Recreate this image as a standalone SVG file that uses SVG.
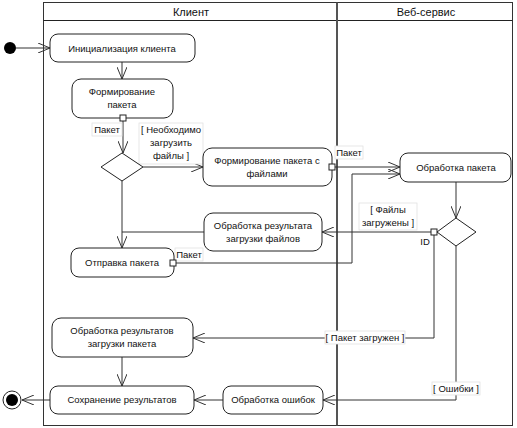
<svg xmlns="http://www.w3.org/2000/svg" width="517" height="428" viewBox="0 0 517 428">
<style>
.t{font-family:"Liberation Sans",Arial,sans-serif;font-size:9.5px;fill:#111;text-anchor:middle}
.h{font-family:"Liberation Sans",Arial,sans-serif;font-size:11px;fill:#111;text-anchor:middle}
.n{fill:#fff;stroke:#222;stroke-width:1}
.c{fill:none;stroke:#333;stroke-width:1}
.lb{fill:#fff;stroke:#e2e2e2;stroke-width:0.8}
.pin{fill:#fff;stroke:#222;stroke-width:1}
</style>
<defs>
<marker id="a" viewBox="0 0 12 10" refX="12" refY="5" markerWidth="12" markerHeight="10" markerUnits="userSpaceOnUse" orient="auto">
<path d="M0,0 L12,5 L0,10" fill="none" stroke="#333" stroke-width="1"/>
</marker>
</defs>
<rect width="517" height="428" fill="#fff"/>
<g id="frame">
<rect x="43.5" y="2.5" width="469" height="423" fill="none" stroke="#333" stroke-width="1"/>
<line x1="43.5" y1="20.5" x2="512.5" y2="20.5" stroke="#222" stroke-width="1"/>
<line x1="337" y1="2.5" x2="337" y2="425.5" stroke="#555" stroke-width="2"/>
<text class="h" x="191" y="16">Клиент</text>
<text class="h" x="426" y="16">Веб-сервис</text>
</g>
<g id="connectors">
<line class="c" x1="16" y1="48" x2="50" y2="48" marker-end="url(#a)"/>
<line class="c" x1="122" y1="62" x2="122" y2="79" marker-end="url(#a)"/>
<line class="c" x1="123" y1="121" x2="123" y2="153" marker-end="url(#a)"/>
<line class="c" x1="143" y1="167" x2="203" y2="167" marker-end="url(#a)"/>
<line class="c" x1="335" y1="167" x2="400" y2="167" marker-end="url(#a)"/>
<polyline class="c" points="176,263 352,263 352,174 400,174" marker-end="url(#a)"/>
<line class="c" x1="456" y1="182" x2="456" y2="218" marker-end="url(#a)"/>
<line class="c" x1="431" y1="232" x2="322" y2="232" marker-end="url(#a)"/>
<polyline class="c" points="204,232 122,232"/>
<line class="c" x1="122" y1="181" x2="122" y2="248" marker-end="url(#a)"/>
<polyline class="c" points="434,235 434,338 193,338" marker-end="url(#a)"/>
<polyline class="c" points="456,246 456,400 323,400" marker-end="url(#a)"/>
<line class="c" x1="223" y1="400" x2="194" y2="400" marker-end="url(#a)"/>
<line class="c" x1="122" y1="357" x2="122" y2="386" marker-end="url(#a)"/>
<line class="c" x1="50" y1="400" x2="22" y2="400" marker-end="url(#a)"/>
</g>
<g id="labels">
<rect class="lb" x="92" y="123" width="30" height="13"/>
<text class="t" x="107" y="133">Пакет</text>
<rect class="lb" x="139" y="123" width="64" height="41"/>
<text class="t" x="171" y="133">[ Необходимо</text>
<text class="t" x="171" y="146">загрузить</text>
<text class="t" x="171" y="159">файлы ]</text>
<rect class="lb" x="335" y="146" width="28" height="13"/>
<text class="t" x="349" y="156">Пакет</text>
<rect class="lb" x="175" y="248" width="28" height="13"/>
<text class="t" x="189" y="258">Пакет</text>
<rect class="lb" x="359" y="203" width="58" height="27"/>
<text class="t" x="388" y="213">[ Файлы</text>
<text class="t" x="388" y="226">загружены ]</text>
<text class="t" x="425" y="245">ID</text>
<rect class="lb" x="325" y="331" width="80" height="13"/>
<text class="t" x="365" y="341">[ Пакет загружен ]</text>
<rect class="lb" x="432" y="382" width="48" height="13"/>
<text class="t" x="456" y="392">[ Ошибки ]</text>
</g>
<g id="start"><circle cx="10" cy="48" r="6" fill="#000"/></g>
<g id="end"><circle cx="12" cy="400" r="9" fill="#fff" stroke="#222"/><circle cx="12" cy="400" r="6" fill="#000"/></g>
<g id="init"><rect class="n" x="50" y="34" width="145" height="28" rx="8"/><text class="t" x="122" y="52">Инициализация клиента</text></g>
<g id="form"><rect class="n" x="72" y="79" width="101" height="39" rx="9"/><text class="t" x="122" y="95">Формирование</text><text class="t" x="122" y="108">пакета</text><rect class="pin" x="120" y="115" width="6" height="6"/></g>
<g id="dec1"><polygon class="n" points="122,153 143,167 122,181 101,167"/></g>
<g id="formfiles"><rect class="n" x="203" y="148" width="129" height="38" rx="9"/><text class="t" x="267" y="164">Формирование пакета с</text><text class="t" x="267" y="177">файлами</text><rect class="pin" x="329" y="164" width="6" height="6"/></g>
<g id="proc"><rect class="n" x="400" y="153" width="111" height="29" rx="8"/><text class="t" x="456" y="171">Обработка пакета</text></g>
<g id="dec2"><polygon class="n" points="456,218 476,232 456,246 437,232"/><rect class="pin" x="431" y="229" width="6" height="6"/></g>
<g id="resfiles"><rect class="n" x="204" y="213" width="118" height="38" rx="9"/><text class="t" x="263" y="229">Обработка результата</text><text class="t" x="263" y="242">загрузки файлов</text></g>
<g id="send"><rect class="n" x="71" y="248" width="103" height="29" rx="8"/><text class="t" x="122" y="266">Отправка пакета</text><rect class="pin" x="170" y="260" width="6" height="6"/></g>
<g id="respack"><rect class="n" x="52" y="318" width="141" height="39" rx="9"/><text class="t" x="122" y="334">Обработка результатов</text><text class="t" x="122" y="347">загрузки пакета</text></g>
<g id="save"><rect class="n" x="50" y="386" width="144" height="28" rx="8"/><text class="t" x="122" y="403">Сохранение результатов</text></g>
<g id="err"><rect class="n" x="223" y="386" width="100" height="28" rx="8"/><text class="t" x="273" y="403">Обработка ошибок</text></g>
</svg>
